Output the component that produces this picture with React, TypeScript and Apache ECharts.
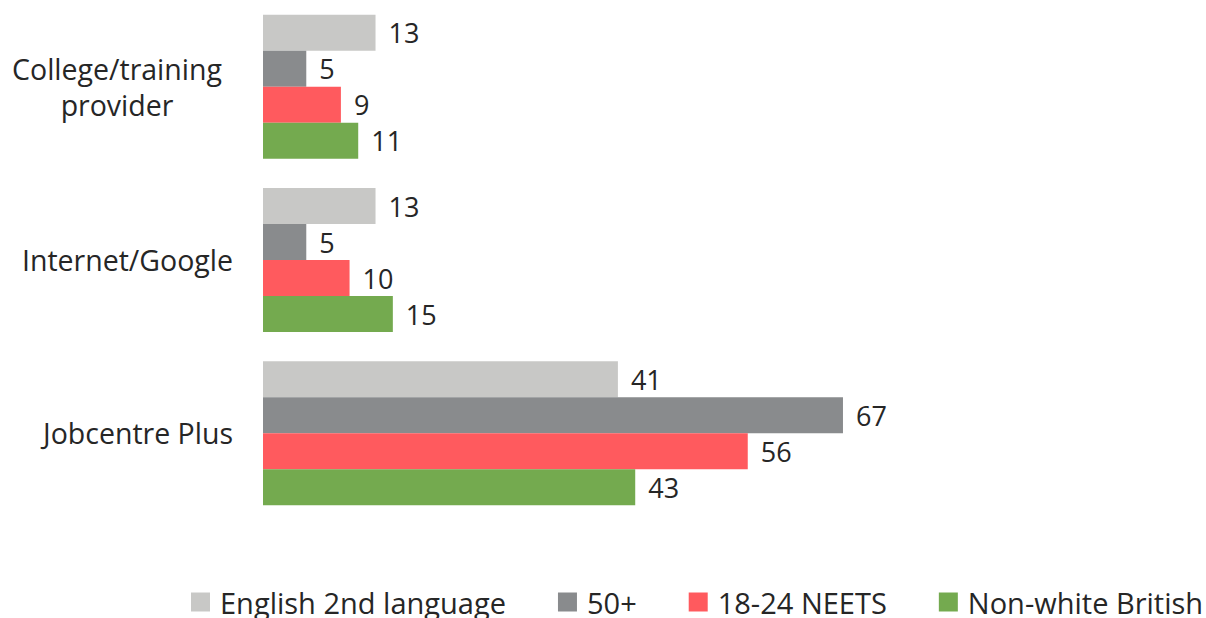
import React, { useEffect, useRef } from "react";
import * as echarts from "echarts";

const categories = ["College/training\nprovider", "Internet/Google", "Jobcentre Plus"];
const seriesNames = ["English 2nd language", "50+", "18-24 NEETS", "Non-white British"];
const english2nd = [13, 13, 41];
const over50 = [5, 5, 67];
const neets = [9, 10, 56];
const nonWhite = [11, 15, 43];
const colors = ["#C8C8C6", "#898B8D", "#FF5A5E", "#74AA4F"];

const FONT = "Open Sans";
const TEXT = "#262626";

export default function App() {
  const ref = useRef<HTMLDivElement>(null);
  useEffect(() => {
    if (!ref.current) return;
    const chart = echarts.init(ref.current, undefined, { renderer: "svg" });
    const values = [english2nd, over50, neets, nonWhite];
    chart.setOption({
      animation: false,
      textStyle: { fontFamily: FONT, color: TEXT },
      grid: { left: 263, right: 250.5, top: -2, bottom: 98, containLabel: false },
      legend: {
        data: seriesNames,
        left: 191,
        top: 587,
        padding: 0,
        icon: "rect",
        itemWidth: 19,
        itemHeight: 19,
        itemGap: 52,
        textStyle: { fontFamily: FONT, fontSize: 29, lineHeight: 30, color: TEXT, padding: [0, 0, 0, 5] },
      },
      xAxis: {
        type: "value",
        min: 0,
        max: 80,
        show: false,
      },
      yAxis: {
        type: "category",
        inverse: true,
        data: categories.map((c, i) =>
          i === 0
            ? { value: c, textStyle: { align: "center", padding: [0, 232, 0, 0], lineHeight: 36 } }
            : { value: c }
        ),
        axisLine: { show: false },
        axisTick: { show: false },
        axisLabel: { margin: 30, fontFamily: FONT, fontSize: 28.5, color: TEXT },
      },
      series: seriesNames.map((name, i) => ({
        name,
        type: "bar",
        data: values[i],
        barWidth: 36,
        barGap: "0%",
        itemStyle: { color: colors[i] },
        label: {
          show: true,
          position: "right",
          distance: 13,
          fontFamily: FONT,
          fontSize: 27,
          color: TEXT,
        },
      })),
    });
    return () => chart.dispose();
  }, []);
  return <div ref={ref} style={{ width: 1206, height: 618, position: "absolute", left: 0, top: 0 }} />;
}
